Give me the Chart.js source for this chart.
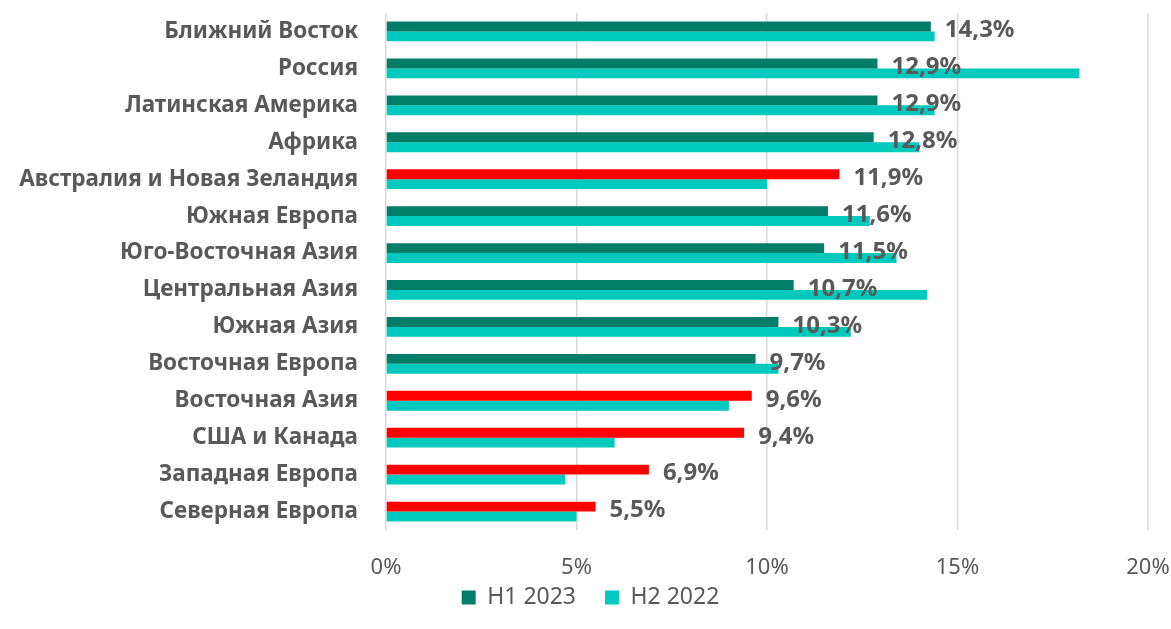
<!DOCTYPE html>
<html><head><meta charset="utf-8">
<script src="https://cdn.jsdelivr.net/npm/chart.js@4"></script>
<style>html,body{margin:0;padding:0;background:#fff}</style>
</head><body>
<canvas id="c" width="1171" height="629"></canvas>
<script>
const categories = ['Ближний Восток','Россия','Латинская Америка','Африка','Австралия и Новая Зеландия','Южная Европа','Юго-Восточная Азия','Центральная Азия','Южная Азия','Восточная Европа','Восточная Азия','США и Канада','Западная Европа','Северная Европа'];
const h1_2023 = [14.3,12.9,12.9,12.8,11.9,11.6,11.5,10.7,10.3,9.7,9.6,9.4,6.9,5.5];
const h2_2022 = [14.4,18.2,14.4,14.0,10.0,12.7,13.4,14.2,12.2,10.3,9.0,6.0,4.7,5.0];
const seriesNames = ['H1 2023','H2 2022'];
const tickLabels = ['0%','5%','10%','15%','20%'];

const TEAL = '#037C68', CYAN = '#00C9BD', RED = '#FF0000', TEXT = '#595959';
const FONT = '"Noto Sans", "DejaVu Sans", sans-serif';

const valueLabels = {
  id: 'valueLabels',
  afterDatasetsDraw(chart) {
    const ctx = chart.ctx;
    const m0 = chart.getDatasetMeta(0), m1 = chart.getDatasetMeta(1);
    ctx.save();
    ctx.font = 'bold 24px ' + FONT;
    ctx.fillStyle = TEXT;
    ctx.textBaseline = 'middle';
    ctx.textAlign = 'left';
    m0.data.forEach((bar, i) => {
      const y = (bar.y + m1.data[i].y) / 2 - 1;
      ctx.fillText(h1_2023[i].toFixed(1).replace('.', ',') + '%', bar.x + 14, y);
    });
    ctx.restore();
  }
};

new Chart(document.getElementById('c'), {
  type: 'bar',
  data: {
    labels: categories,
    datasets: [
      { label: seriesNames[0], data: h1_2023, legendColor: TEAL,
        backgroundColor: h1_2023.map((v, i) => v > h2_2022[i] ? RED : TEAL),
        borderWidth: 0, categoryPercentage: 0.535, barPercentage: 1.0 },
      { label: seriesNames[1], data: h2_2022, legendColor: CYAN,
        backgroundColor: CYAN, borderWidth: 0, categoryPercentage: 0.535, barPercentage: 1.0 }
    ]
  },
  options: {
    indexAxis: 'y',
    responsive: false,
    animation: false,
    layout: { padding: { top: 13, bottom: 10, left: 10, right: 0 } },
    scales: {
      x: {
        min: 0, max: 20,
        ticks: { stepSize: 5, color: TEXT, font: { family: FONT, size: 22 }, padding: 25,
                 callback: (v, i) => tickLabels[i] },
        grid: { color: '#D9D9D9', lineWidth: 1.5, drawTicks: false },
        border: { display: false },
        afterFit: s => {
          s.height = 27; s.paddingRight = 23; s.paddingLeft = 0;
          s._computeLabelArea = () => undefined;   // let tick labels extend below the thin axis box
        }
      },
      y: {
        ticks: { color: TEXT, font: { family: FONT, size: 22.5, weight: 'bold' }, padding: 28 },
        grid: { display: false, drawTicks: false },
        border: { display: false },
        afterFit: s => { s.width = 376; s.paddingTop = 0; s.paddingBottom = 0; }
      }
    },
    plugins: {
      tooltip: { enabled: false },
      legend: {
        position: 'bottom',
        labels: {
          color: TEXT, font: { family: FONT, size: 23 }, boxWidth: 14, boxHeight: 14, padding: 29,
          generateLabels: chart => chart.data.datasets.map((d, i) => ({
            text: d.label, fillStyle: d.legendColor, strokeStyle: d.legendColor, lineWidth: 0,
            fontColor: TEXT, datasetIndex: i, hidden: false
          }))
        }
      }
    }
  },
  plugins: [valueLabels]
});
</script>
</body></html>
